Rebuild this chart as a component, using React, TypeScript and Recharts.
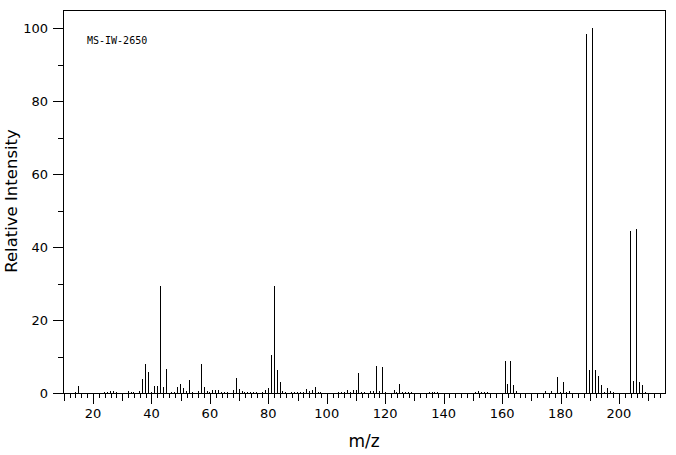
import { BarChart, Bar, XAxis, YAxis, ReferenceArea } from "recharts";

// peaks (m/z, relative intensity)
const mzValues = [
  14, 15, 24, 25, 26, 27, 28, 32, 33, 34, 36, 37, 38, 39, 40, 41, 42, 43, 44, 45,
  47, 48, 49, 50, 51, 52, 53, 54, 56, 57, 58, 59, 60, 61, 62, 63, 64, 65, 66, 68,
  69, 70, 71, 72, 73, 74, 75, 76, 78, 79, 80, 81, 82, 83, 84, 85, 86, 88, 89, 90,
  91, 92, 93, 94, 95, 96, 97, 98, 104, 105, 106, 107, 108, 109, 110, 111, 112, 113, 115, 116,
  117, 118, 119, 120, 123, 124, 125, 126, 127, 128, 129, 135, 136, 137, 138, 151, 152, 153, 154, 155,
  161, 162, 163, 164, 165, 175, 177, 179, 180, 181, 182, 183, 189, 190, 191, 192, 193, 194, 195, 196,
  197, 198, 204, 205, 206, 207, 208, 209,
];
const intensities = [
  0.3, 1.9, 0.3, 0.3, 0.5, 0.5, 0.3, 0.5, 0.3, 0.3, 0.5, 3.8, 8.0, 5.7, 0.3, 1.9, 1.9, 29.3, 1.6, 6.6,
  0.3, 0.3, 1.7, 2.5, 1.4, 0.5, 3.6, 0.3, 0.5, 8.0, 1.7, 0.5, 0.3, 0.8, 0.8, 0.8, 0.3, 0.3, 0.3, 0.8,
  4.1, 1.1, 0.5, 0.3, 0.3, 0.3, 0.3, 0.3, 0.3, 0.8, 1.4, 10.5, 29.3, 6.3, 3.0, 0.5, 0.3, 0.3, 0.3, 0.3,
  0.3, 0.3, 1.1, 0.5, 0.8, 1.6, 0.3, 0.3, 0.3, 0.3, 0.3, 0.8, 0.3, 0.8, 0.8, 5.6, 0.3, 0.3, 0.5, 0.5,
  7.4, 0.5, 7.1, 0.3, 0.7, 0.3, 2.5, 0.3, 0.3, 0.3, 0.3, 0.3, 0.3, 0.3, 0.3, 0.3, 0.5, 0.3, 0.3, 0.3,
  8.8, 2.5, 8.8, 2.2, 0.5, 0.5, 0.5, 4.5, 0.3, 2.9, 0.3, 0.5, 98.3, 6.3, 100, 6.3, 4.7, 2.2, 0.3, 1.4,
  0.5, 0.3, 44.3, 3.3, 44.9, 3.0, 2.2, 0.3,
];

const xLabelTicks = [20, 40, 60, 80, 100, 120, 140, 160, 180, 200];
const yLabelTicks = [0, 20, 40, 60, 80, 100];
const X_MIN = 9.73;
const X_MAX = 215.75;
const Y_MAX = 105;

const data = mzValues.map((mz, i) => ({ mz, intensity: intensities[i] }));

const xTicks: number[] = [];
for (let v = 10; v <= 214; v += 2) xTicks.push(v);
const yTicks: number[] = [];
for (let v = 0; v <= 100; v += 10) yTicks.push(v);

const FONT = "'DejaVu Sans', sans-serif";

const XTick = (props: any) => {
  const { x, y, payload } = props;
  const v = payload.value;
  const len = v % 20 === 0 ? 11 : v % 10 === 0 ? 8 : 5;
  const px = Math.round(x) + 0.5;
  return (
    <g>
      <line x1={px} x2={px} y1={y} y2={y + len} stroke="#000" shapeRendering="crispEdges" />
      {xLabelTicks.includes(v) && (
        <text x={x} y={y + 25} textAnchor="middle" fontSize={13} fontFamily={FONT} fill="#000">
          {v}
        </text>
      )}
    </g>
  );
};

const YTick = (props: any) => {
  const { x, y, payload } = props;
  const v = payload.value;
  const len = v % 20 === 0 ? 10 : 5;
  const py = Math.round(y) + 0.5;
  return (
    <g>
      <line x1={x - len} x2={x} y1={py} y2={py} stroke="#000" shapeRendering="crispEdges" />
      {yLabelTicks.includes(v) && (
        <text x={x - 15} y={y + 4.7} textAnchor="end" fontSize={13} fontFamily={FONT} fill="#000">
          {v}
        </text>
      )}
    </g>
  );
};

const Stick = (props: any) => {
  const { x, y, width, height } = props;
  const cx = Math.floor(x + width / 2);
  return <rect x={cx} y={y} width={1} height={height} fill="#000" shapeRendering="crispEdges" />;
};

export default function App() {
  return (
    <div style={{ position: "absolute", left: 0, top: 0, width: 676, height: 455, background: "#fff" }}>
      <BarChart
        width={676}
        height={455}
        data={data}
        margin={{ top: 10, right: 11, bottom: 0, left: 0 }}
        barCategoryGap={0}
      >
        <XAxis
          dataKey="mz"
          type="number"
          domain={[X_MIN, X_MAX]}
          allowDataOverflow
          ticks={xTicks}
          interval={0}
          height={62}
          tickSize={0}
          tickMargin={0}
          tickLine={false}
          tick={<XTick />}
          axisLine={{ stroke: "#000", shapeRendering: "crispEdges" }}
          label={{
            value: "m/z",
            position: "insideBottom",
            offset: 8,
            fontSize: 17,
            fontFamily: FONT,
            fill: "#000",
          }}
        />
        <YAxis
          type="number"
          domain={[0, Y_MAX]}
          allowDataOverflow
          ticks={yTicks}
          interval={0}
          width={63}
          tickSize={0}
          tickMargin={0}
          tickLine={false}
          tick={<YTick />}
          axisLine={{ stroke: "#000", shapeRendering: "crispEdges" }}
        />
        <ReferenceArea
          x1={X_MIN}
          x2={X_MAX}
          y1={0}
          y2={Y_MAX}
          fill="none"
          stroke="#000"
          fillOpacity={0}
          shapeRendering="crispEdges"
        />
        <Bar dataKey="intensity" barSize={1} shape={<Stick />} isAnimationActive={false} />
      </BarChart>
      <div
        style={{
          position: "absolute",
          left: 87,
          top: 34,
          fontFamily: "'DejaVu Sans Mono', monospace",
          fontSize: 10,
          lineHeight: "14px",
          color: "#000",
        }}
      >
        MS-IW-2650
      </div>
      <div
        style={{
          position: "absolute",
          left: 11,
          top: 201,
          transform: "translate(-50%, -50%) rotate(-90deg)",
          fontFamily: FONT,
          fontSize: 16.5,
          whiteSpace: "nowrap",
          color: "#000",
        }}
      >
        Relative Intensity
      </div>
    </div>
  );
}
